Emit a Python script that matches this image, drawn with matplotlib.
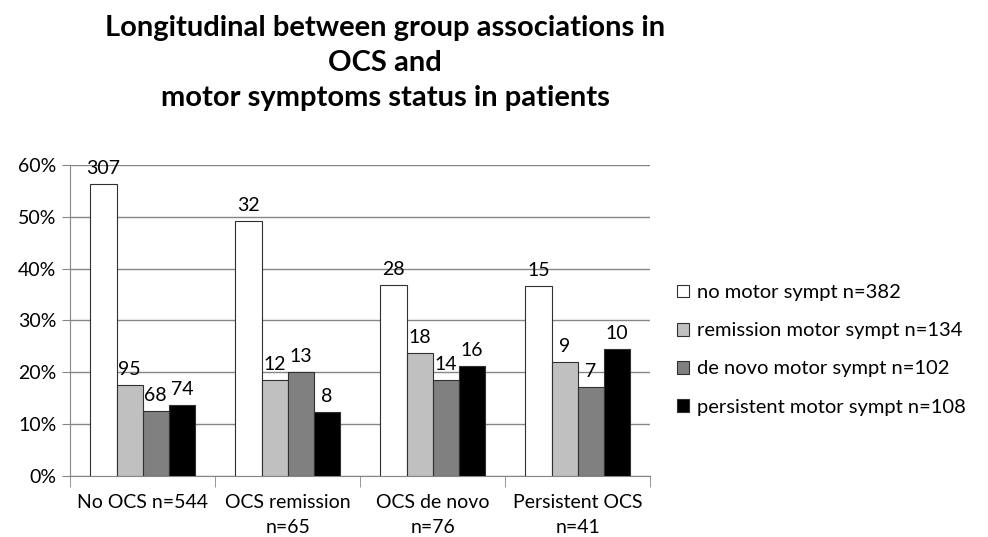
import numpy as np
import matplotlib.pyplot as plt

plt.rcParams['font.family'] = ['Lato', 'DejaVu Sans']

groups = ['No OCS n=544', 'OCS remission\nn=65', 'OCS de novo\nn=76', 'Persistent OCS\nn=41']
series = ['no motor sympt n=382', 'remission motor sympt n=134',
          'de novo motor sympt n=102', 'persistent motor sympt n=108']
counts = [[307, 32, 28, 15],
          [95, 12, 18, 9],
          [68, 13, 14, 7],
          [74, 8, 16, 10]]
pcts = [[0.564, 0.492, 0.368, 0.366],
        [0.175, 0.185, 0.237, 0.220],
        [0.125, 0.200, 0.184, 0.171],
        [0.136, 0.123, 0.211, 0.244]]
colors = ['white', '#c0c0c0', '#808080', 'black']

fig = plt.figure(figsize=(9.88, 5.37), dpi=100)
ax = fig.add_axes([0.071, 0.114, 0.587, 0.579])

x = np.arange(len(groups))
w = 0.18
for i in range(4):
    pos = x + (i - 1.5) * w
    bars = ax.bar(pos, pcts[i], w, color=colors[i], edgecolor='#303030',
                  linewidth=0.8, label=series[i], zorder=3)
    for b, c in zip(bars, counts[i]):
        ax.annotate(str(c), (b.get_x() + b.get_width() / 2, b.get_height()),
                    xytext=(0, 5), textcoords='offset points',
                    ha='center', va='bottom', fontsize=14)

ax.set_xlim(-0.5, 3.5)
ax.set_ylim(0, 0.6)
ax.set_yticks(np.arange(0, 0.61, 0.1))
ax.set_yticklabels(['%d%%' % v for v in range(0, 61, 10)], fontsize=14)
ax.yaxis.grid(True, color='#868686', linewidth=1, zorder=0)
ax.set_xticks(x)
ax.set_xticklabels(groups, fontsize=14, linespacing=1.55)
ax.tick_params(axis='x', length=0, pad=13)
ax.set_xticks(np.arange(-0.5, 4, 1), minor=True)
ax.tick_params(axis='x', which='minor', length=8, color='#868686')
ax.tick_params(axis='y', length=6, color='#868686', pad=4)
for s in ['top', 'right']:
    ax.spines[s].set_visible(False)
for s in ['left', 'bottom']:
    ax.spines[s].set_color('#868686')

fig.text(0.39, 0.883, 'Longitudinal between group associations in\nOCS and\nmotor symptoms status in patients',
         ha='center', va='center', fontsize=21, fontweight='bold', linespacing=1.42)

ax.legend(loc='center left', bbox_to_anchor=(1.015, 0.405), frameon=False,
          fontsize=14.5, labelspacing=1.05, handlelength=0.6, handleheight=0.6,
          handletextpad=0.4)

fig.savefig('out.png', dpi=100)
